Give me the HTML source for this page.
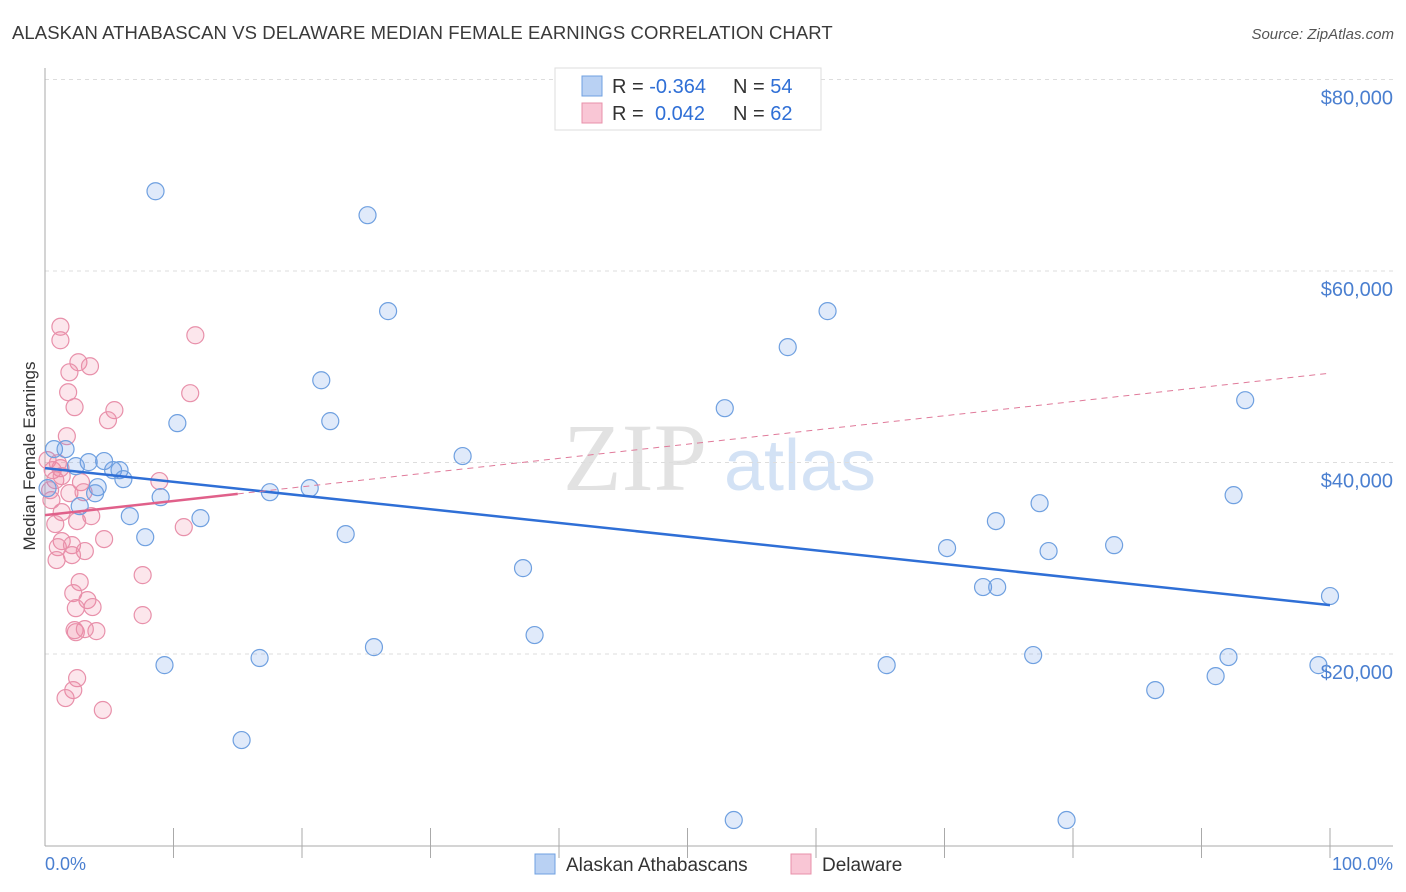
<!DOCTYPE html>
<html><head><meta charset="utf-8"><style>
body{margin:0;background:#fff;font-family:"Liberation Sans",sans-serif}
svg{display:block}
</style></head><body>
<svg id="c" width="1406" height="892">
<text x="12" y="39" font-size="18.5" fill="#3a3a3a" letter-spacing="0.3" textLength="821">ALASKAN ATHABASCAN VS DELAWARE MEDIAN FEMALE EARNINGS CORRELATION CHART</text>
<text x="1394" y="39" font-size="15" fill="#555" text-anchor="end" font-style="italic">Source: ZipAtlas.com</text>
<g><text x="635" y="490" font-size="96" fill="#e2e2e2" font-family="Liberation Serif,serif" text-anchor="middle">ZIP</text><text x="800" y="490" font-size="72" fill="#d3e2f5" text-anchor="middle">atlas</text></g>
<g id="grid"></g>
<g id="axes"></g>
<g id="pts"></g>
<g id="lines"></g>
<text transform="translate(35,456) rotate(-90)" font-size="17" fill="#333" text-anchor="middle">Median Female Earnings</text>
<text x="45" y="870" font-size="18" fill="#4a7fd0">0.0%</text>
<text x="1393" y="870" font-size="18" fill="#4a7fd0" text-anchor="end">100.0%</text>
<g>
<rect x="555" y="68" width="266" height="62" fill="#fff" stroke="#ddd"/>
<rect x="582" y="76" width="20" height="20" fill="#b9d1f3" stroke="#6fa0e0"/>
<rect x="582" y="103" width="20" height="20" fill="#f9c6d5" stroke="#e890aa"/>
<text x="612" y="93" font-size="20" fill="#333">R = <tspan fill="#2f6fd6">-0.364</tspan><tspan x="733">N = </tspan><tspan fill="#2f6fd6">54</tspan></text>
<text x="612" y="120" font-size="20" fill="#333">R = <tspan x="655" fill="#2f6fd6">0.042</tspan><tspan x="733">N = </tspan><tspan fill="#2f6fd6">62</tspan></text>
</g>
<g>
<rect x="535" y="854" width="20" height="20" fill="#b9d1f3" stroke="#6fa0e0"/>
<text x="566" y="871" font-size="19" fill="#333">Alaskan Athabascans</text>
<rect x="791" y="854" width="20" height="20" fill="#f9c6d5" stroke="#e890aa"/>
<text x="822" y="871" font-size="19" fill="#333">Delaware</text>
</g>
</svg>
<script>
const yTicks=[20000,40000,60000,80000];
const yTickLabels=["$20,000","$40,000","$60,000","$80,000"];
const blueX=[8.6,25.1,26.7,60.9,57.8,21.5,52.9,93.4,10.3,22.2,32.5,0.7,1.6,3.4,4.6,2.4,5.3,5.8,6.1,4.1,3.9,0.2,17.5,20.6,9.0,92.5,2.7,77.4,6.6,12.1,74.0,23.4,7.8,70.2,83.2,78.1,37.2,73.0,74.1,100,38.1,25.6,76.9,92.1,16.7,9.3,65.5,99.1,91.1,86.4,15.3,53.6,79.5];
const blueY=[68330,65830,55810,55810,52050,48590,45670,46510,44110,44320,40670,41400,41400,40040,40150,39620,39200,39200,38260,37420,36790,37320,36900,37320,36380,36590,35440,35750,34400,34190,33880,32520,32200,31060,31370,30750,28970,26990,26990,26050,21980,20720,19890,19680,19580,18840,18840,18840,17690,16230,11010,2660,2660];
const pinkX=[1.2,1.2,2.6,3.5,1.9,11.7,1.8,2.3,5.4,4.9,11.3,1.7,0.2,0.6,1.2,0.8,0.4,1.3,2.8,1.9,3.0,8.9,3.6,1.3,2.5,0.8,10.8,1.3,1.0,2.1,3.1,4.6,0.9,2.1,7.6,2.7,2.2,3.3,3.7,2.4,7.6,2.4,4.0,2.3,3.1,2.5,2.2,1.6,4.5,0.5,1.0];
const pinkY=[54180,52770,50470,50050,49420,53290,47340,45780,45470,44420,47240,42750,40250,39200,39410,38160,37110,38580,37950,36800,36900,38060,34400,34820,33880,33570,33250,31790,31160,31370,30750,32000,29810,30330,28240,27510,26360,25630,24900,24790,24060,22280,22390,22490,22600,17480,16230,15400,14150,36070,39930];
const blueTrend=[39410,25100];
const pinkTrend=[34500,49330];
const pinkSolidEnd=15;
const X=p=>45+p*12.85, Y=v=>845.5-v*191.5/20000;
const NS="http://www.w3.org/2000/svg";
function mk(parent,tag,attrs){const e=document.createElementNS(NS,tag);for(const k in attrs)e.setAttribute(k,attrs[k]);document.getElementById(parent).appendChild(e);return e;}
yTicks.forEach((t,i)=>{
 const l=mk('grid','line',{x1:45,x2:1393,y1:Y(t),y2:Y(t),stroke:'#ddd','stroke-dasharray':'4,4'});
 
 
 const tx=mk('grid','text',{x:1393,y:Y(t)+25,'font-size':20,fill:'#4a7fd0','text-anchor':'end'});
 tx.textContent=yTickLabels[i];
 
 
});
const ax=mk('axes','line',{x1:45,x2:45,y1:68,y2:846,stroke:'#aaa'});


const bx=mk('axes','line',{x1:45,x2:1393,y1:846,y2:846,stroke:'#aaa'});


for(let i=1;i<=10;i++){const t=mk('axes','line',{x1:X(i*10),x2:X(i*10),y1:828,y2:858,stroke:'#aaa'});
 
 }
pinkX.forEach((x,i)=>{const c=mk('pts','circle',{cx:X(x),cy:Y(pinkY[i]),r:8.5,fill:'rgba(240,130,160,0.2)',stroke:'#e890aa','stroke-width':1.2});
 
 });
blueX.forEach((x,i)=>{const c=mk('pts','circle',{cx:X(x),cy:Y(blueY[i]),r:8.5,fill:'rgba(100,150,230,0.2)',stroke:'#6fa0e0','stroke-width':1.2});
 
 });
const bt=mk('lines','line',{x1:X(0),y1:Y(blueTrend[0]),x2:X(100),y2:Y(blueTrend[1]),stroke:'#2f6fd6','stroke-width':2.5});


const pv=p=>pinkTrend[0]+(pinkTrend[1]-pinkTrend[0])*p/100;
const pd=mk('lines','line',{x1:X(pinkSolidEnd),y1:Y(pv(pinkSolidEnd)),x2:X(100),y2:Y(pinkTrend[1]),stroke:'#e07a9a','stroke-width':1,'stroke-dasharray':'6,5'});


const ps=mk('lines','line',{x1:X(0),y1:Y(pinkTrend[0]),x2:X(pinkSolidEnd),y2:Y(pv(pinkSolidEnd)),stroke:'#e0608a','stroke-width':2.5});


</script>
</body></html>
